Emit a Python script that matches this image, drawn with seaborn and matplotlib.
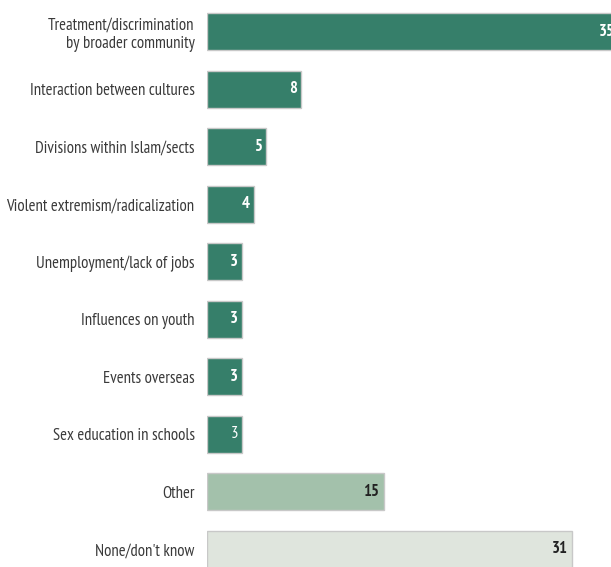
import seaborn as sns
import matplotlib.pyplot as plt

# Data
categories = ['Treatment/discrimination\nby broader community',
              'Interaction between cultures',
              'Divisions within Islam/sects',
              'Violent extremism/radicalization',
              'Unemployment/lack of jobs',
              'Influences on youth',
              'Events overseas',
              'Sex education in schools',
              'Other',
              "None/don't know"]
values = [35, 8, 5, 4, 3, 3, 3, 3, 15, 31]
bar_colors = ['#367f6a'] * 8 + ['#a3c1ab', '#dfe5dd']
label_colors = ['white'] * 8 + ['#222222', '#222222']
label_weights = ['bold'] * 7 + ['normal', 'bold', 'bold']

sns.set_theme(style='white')
plt.rcParams['font.family'] = ['PT Sans Narrow', 'DejaVu Sans']

fig = plt.figure(figsize=(6.11, 5.67), dpi=100)
ax = fig.add_axes([207 / 611, -11 / 567, 412 / 611, 575 / 567])

sns.barplot(x=values, y=categories, hue=categories, palette=bar_colors,
            legend=False, width=0.64, edgecolor='#c8c8c8', linewidth=1,
            orient='h', saturation=1, ax=ax)

ax.set_xlim(0, 35)
ax.set_ylim(9.5, -0.5)
for s in ax.spines.values():
    s.set_visible(False)
ax.set_xticks([])
ax.tick_params(axis='y', length=0, pad=9, labelsize=12, labelcolor='#3a3a3a')
for t in ax.get_yticklabels():
    t.set_linespacing(1.2)
ax.set_xlabel('')
ax.set_ylabel('')

for i, v in enumerate(values):
    ax.annotate(str(v), xy=(v, i), xytext=(-3, 0), textcoords='offset points',
                ha='right', va='center', fontsize=12, color=label_colors[i],
                fontweight=label_weights[i])

fig.savefig('out.png', dpi=100)
